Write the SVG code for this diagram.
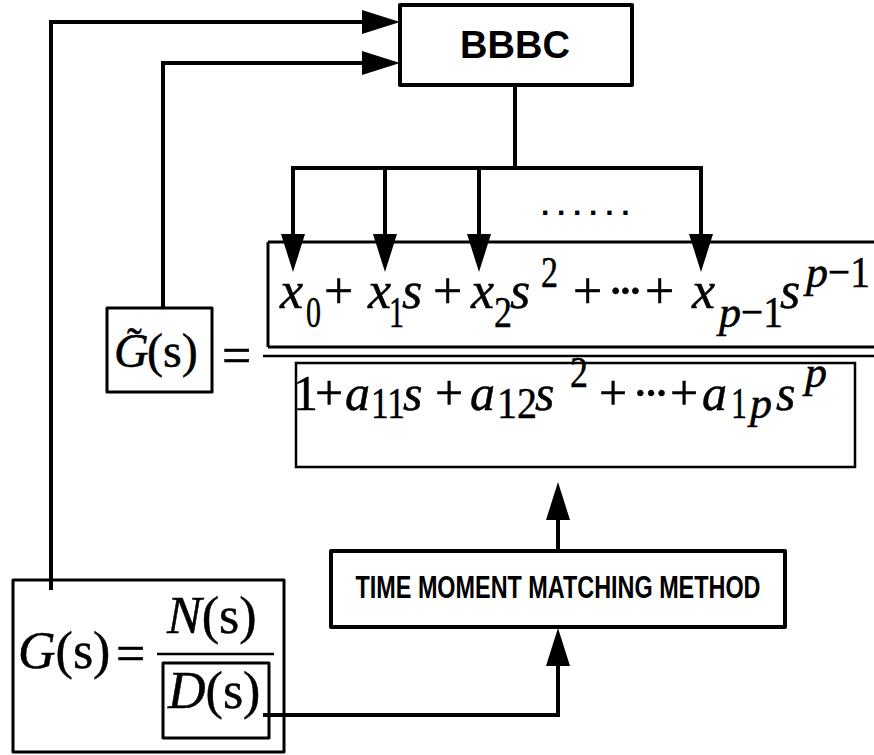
<svg xmlns="http://www.w3.org/2000/svg" width="874" height="755" viewBox="0 0 874 755">
<style>
.bx{fill:none;stroke:#000;stroke-width:4;stroke-linejoin:round}
.bx3{fill:none;stroke:#000;stroke-width:3;stroke-linejoin:round}
.ln{fill:none;stroke:#000;stroke-width:4;stroke-linejoin:miter}
.thin{fill:none;stroke:#000;stroke-width:2.5}
.m{font-family:"Liberation Serif","Times New Roman",serif;fill:#000;stroke:#000;stroke-width:0.5}
.i{font-style:italic}
.s{font-size:44px}
.lbl{font-family:"Liberation Sans",Arial,sans-serif;font-weight:bold;fill:#000}
</style>
<defs>
<marker id="ah" markerUnits="userSpaceOnUse" markerWidth="40" markerHeight="26" refX="0" refY="12" orient="auto" overflow="visible">
<path d="M0,0 L38,12 L0,24 Z" fill="#000"/>
</marker>
</defs>
<rect width="874" height="755" fill="#fff"/>

<g id="bbbc">
<rect class="bx" x="400" y="5" width="232" height="80"/>
<text class="lbl" x="515" y="58" font-size="38" text-anchor="middle">BBBC</text>
</g>

<g id="gtilde">
<rect class="bx3" x="107" y="308" width="105" height="84"/>
<text class="m" font-size="48"><tspan class="i" x="114" y="367">G</tspan><tspan x="147" y="367">(s)</tspan></text>
<text class="m" font-size="44" x="127" y="358">˜</text>
<text class="m" font-size="52" x="222" y="373">=</text>
</g>

<g id="numerator">
<path class="thin" d="M268,242 H874 M268,242 V347 M268,347 H874" style="stroke-width:3"/>
<text class="m" font-size="52"><tspan class="i" x="280" y="308">x</tspan><tspan class="s" x="306" y="327" textLength="15" lengthAdjust="spacingAndGlyphs">0</tspan><tspan x="324" y="308">+</tspan><tspan class="i" x="368" y="308">x</tspan><tspan class="s" x="389" y="327" textLength="15" lengthAdjust="spacingAndGlyphs">1</tspan><tspan class="i" x="402" y="308">s</tspan><tspan x="433" y="308">+</tspan><tspan class="i" x="471" y="308">x</tspan><tspan class="s" x="494" y="327" textLength="18" lengthAdjust="spacingAndGlyphs">2</tspan><tspan class="i" x="510" y="308">s</tspan><tspan class="s" x="541" y="287" textLength="17" lengthAdjust="spacingAndGlyphs">2</tspan><tspan x="573" y="308">+</tspan><tspan x="607" y="308" textLength="37" lengthAdjust="spacing">···</tspan><tspan x="645" y="308">+</tspan><tspan class="i" x="692" y="308">x</tspan><tspan class="s i" x="719" y="327">p</tspan><tspan class="s" x="741" y="327" textLength="42" lengthAdjust="spacingAndGlyphs">−1</tspan><tspan class="i" x="780" y="308">s</tspan><tspan class="s i" x="806" y="287">p</tspan><tspan class="s" x="828" y="287" textLength="42" lengthAdjust="spacingAndGlyphs">−1</tspan></text>
</g>

<g id="fraction-bar">
<line class="thin" x1="263" y1="356" x2="874" y2="356"/>
</g>

<g id="denominator">
<rect class="thin" x="296" y="363" width="559" height="104"/>
<text class="m" font-size="50"><tspan x="293" y="410">1</tspan><tspan x="315" y="410">+</tspan><tspan class="i" x="345" y="410">a</tspan><tspan class="s" x="371" y="418" textLength="34" lengthAdjust="spacingAndGlyphs">11</tspan><tspan class="i" x="403" y="410">s</tspan><tspan x="435" y="410">+</tspan><tspan class="i" x="470" y="410">a</tspan><tspan class="s" x="497" y="418" textLength="40" lengthAdjust="spacingAndGlyphs">12</tspan><tspan class="i" x="535" y="410">s</tspan><tspan class="s" x="570" y="387" textLength="18" lengthAdjust="spacingAndGlyphs">2</tspan><tspan x="599" y="410">+</tspan><tspan x="632" y="410" textLength="38" lengthAdjust="spacing">···</tspan><tspan x="670" y="410">+</tspan><tspan class="i" x="702" y="410">a</tspan><tspan class="s" x="731" y="418" textLength="16" lengthAdjust="spacingAndGlyphs">1</tspan><tspan class="s i" x="750" y="418">p</tspan><tspan class="i" x="776" y="410">s</tspan><tspan class="s i" x="805" y="387">p</tspan></text>
</g>

<g id="tmm">
<rect class="bx" x="331" y="551" width="454" height="76"/>
<text class="lbl" x="558" y="598" font-size="31" text-anchor="middle" textLength="405" lengthAdjust="spacingAndGlyphs">TIME MOMENT MATCHING METHOD</text>
</g>

<g id="gs">
<rect class="bx3" x="13" y="580" width="271" height="172"/>
<text class="m" font-size="52"><tspan class="i" x="18" y="668">G</tspan><tspan>(s)</tspan></text>
<text class="m" font-size="52" x="116" y="671">=</text>
<line class="thin" x1="157" y1="654" x2="274" y2="654"/>
<text class="m" font-size="52"><tspan class="i" x="167" y="633">N</tspan><tspan>(s)</tspan></text>
<rect class="bx3" x="163" y="663" width="106" height="75"/>
<text class="m" font-size="52"><tspan class="i" x="168" y="708">D</tspan><tspan>(s)</tspan></text>
</g>

<g id="connectors">
<path class="ln" d="M51,590 V22 H362" marker-end="url(#ah)"/>
<path class="ln" d="M163,308 V63 H362" marker-end="url(#ah)"/>
<path class="ln" d="M515,85 V168"/>
<path class="ln" d="M293,168 H701"/>
<path class="ln" d="M293,166 V234" marker-end="url(#ah)"/>
<path class="ln" d="M385,166 V234" marker-end="url(#ah)"/>
<path class="ln" d="M479,166 V234" marker-end="url(#ah)"/>
<path class="ln" d="M701,166 V234" marker-end="url(#ah)"/>
<path class="ln" d="M263,715 H558 V666" marker-end="url(#ah)"/>
<path class="ln" d="M558,551 V520" marker-end="url(#ah)"/>
<text class="lbl" x="541" y="215" font-size="30" letter-spacing="7.7">......</text>
</g>
</svg>
